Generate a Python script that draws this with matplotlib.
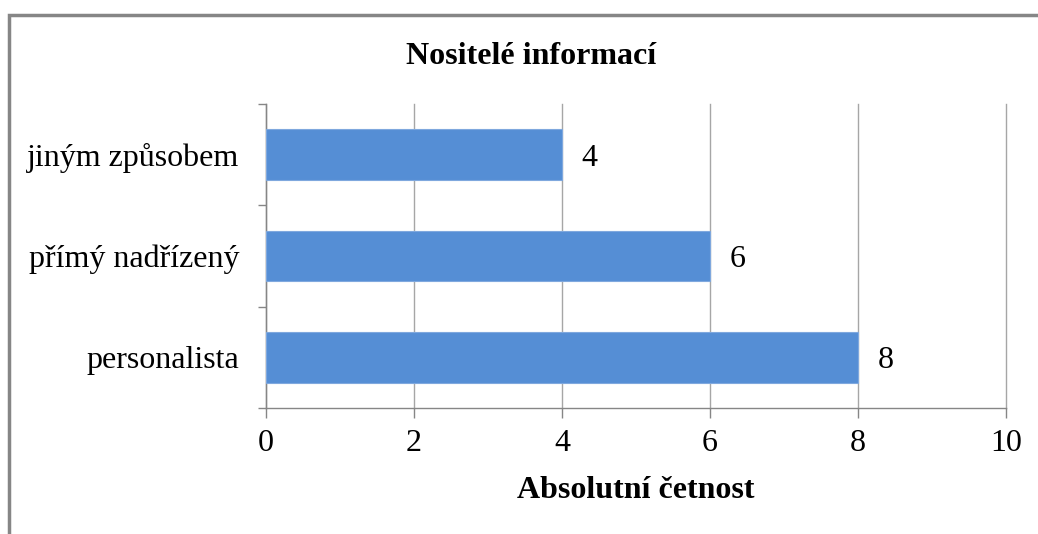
import matplotlib.pyplot as plt
from matplotlib.patches import Rectangle

categories = ["personalista", "přímý nadřízený", "jiným způsobem"]
values = [8, 6, 4]
x_ticks = [0, 2, 4, 6, 8, 10]

plt.rcParams['font.family'] = ['Liberation Serif', 'DejaVu Serif']

fig = plt.figure(figsize=(10.38, 5.34), dpi=100)
ax = fig.add_axes([266 / 1038, 126 / 534, 740 / 1038, 304 / 534])

# outer chart frame (only left and top are visible in the reference)
fig.patches.append(Rectangle((9 / 1038, -0.1), 1.2, (534 - 15) / 534 + 0.1,
                             transform=fig.transFigure, fill=False,
                             edgecolor='#868686', linewidth=2.5))

pos = list(range(len(categories)))
ax.barh(pos, values, height=0.5, color='#558ED5', edgecolor='#7FA8DE',
        linewidth=0.8, zorder=3)

for p, v in zip(pos, values):
    ax.annotate(str(v), (v, p), xytext=(14, -2.5), textcoords='offset points',
                ha='left', va='center', fontsize=23)

ax.set_xlim(0, 10)
ax.set_ylim(-0.5, len(categories) - 0.5)
ax.set_xticks(x_ticks)
ax.set_xticklabels([str(t) for t in x_ticks], fontsize=23)
ax.tick_params(axis='x', length=7, color='#868686', width=1, pad=8)

ax.set_yticks([-0.5, 0.5, 1.5, 2.5])
ax.set_yticklabels([])
ax.tick_params(axis='y', which='major', length=6, color='#868686', width=1)
ax.set_yticks(pos, minor=True)
ax.set_yticklabels(categories, minor=True, fontsize=23)
ax.tick_params(axis='y', which='minor', length=0, pad=19)

ax.grid(axis='x', color='#A6A6A6', linewidth=1, zorder=0)
for line in ax.get_xgridlines():
    line.set_clip_on(False)
for side in ['top', 'right']:
    ax.spines[side].set_visible(False)
for side in ['left', 'bottom']:
    ax.spines[side].set_color('#868686')
    ax.spines[side].set_linewidth(1)

ax.set_xlabel("Absolutní četnost", fontsize=23, fontweight='bold', labelpad=13)
fig.text(531 / 1038, 1 - 56 / 534, "Nositelé informací", ha='center',
         va='center', fontsize=23, fontweight='bold')

fig.savefig('out.png', dpi=100)
